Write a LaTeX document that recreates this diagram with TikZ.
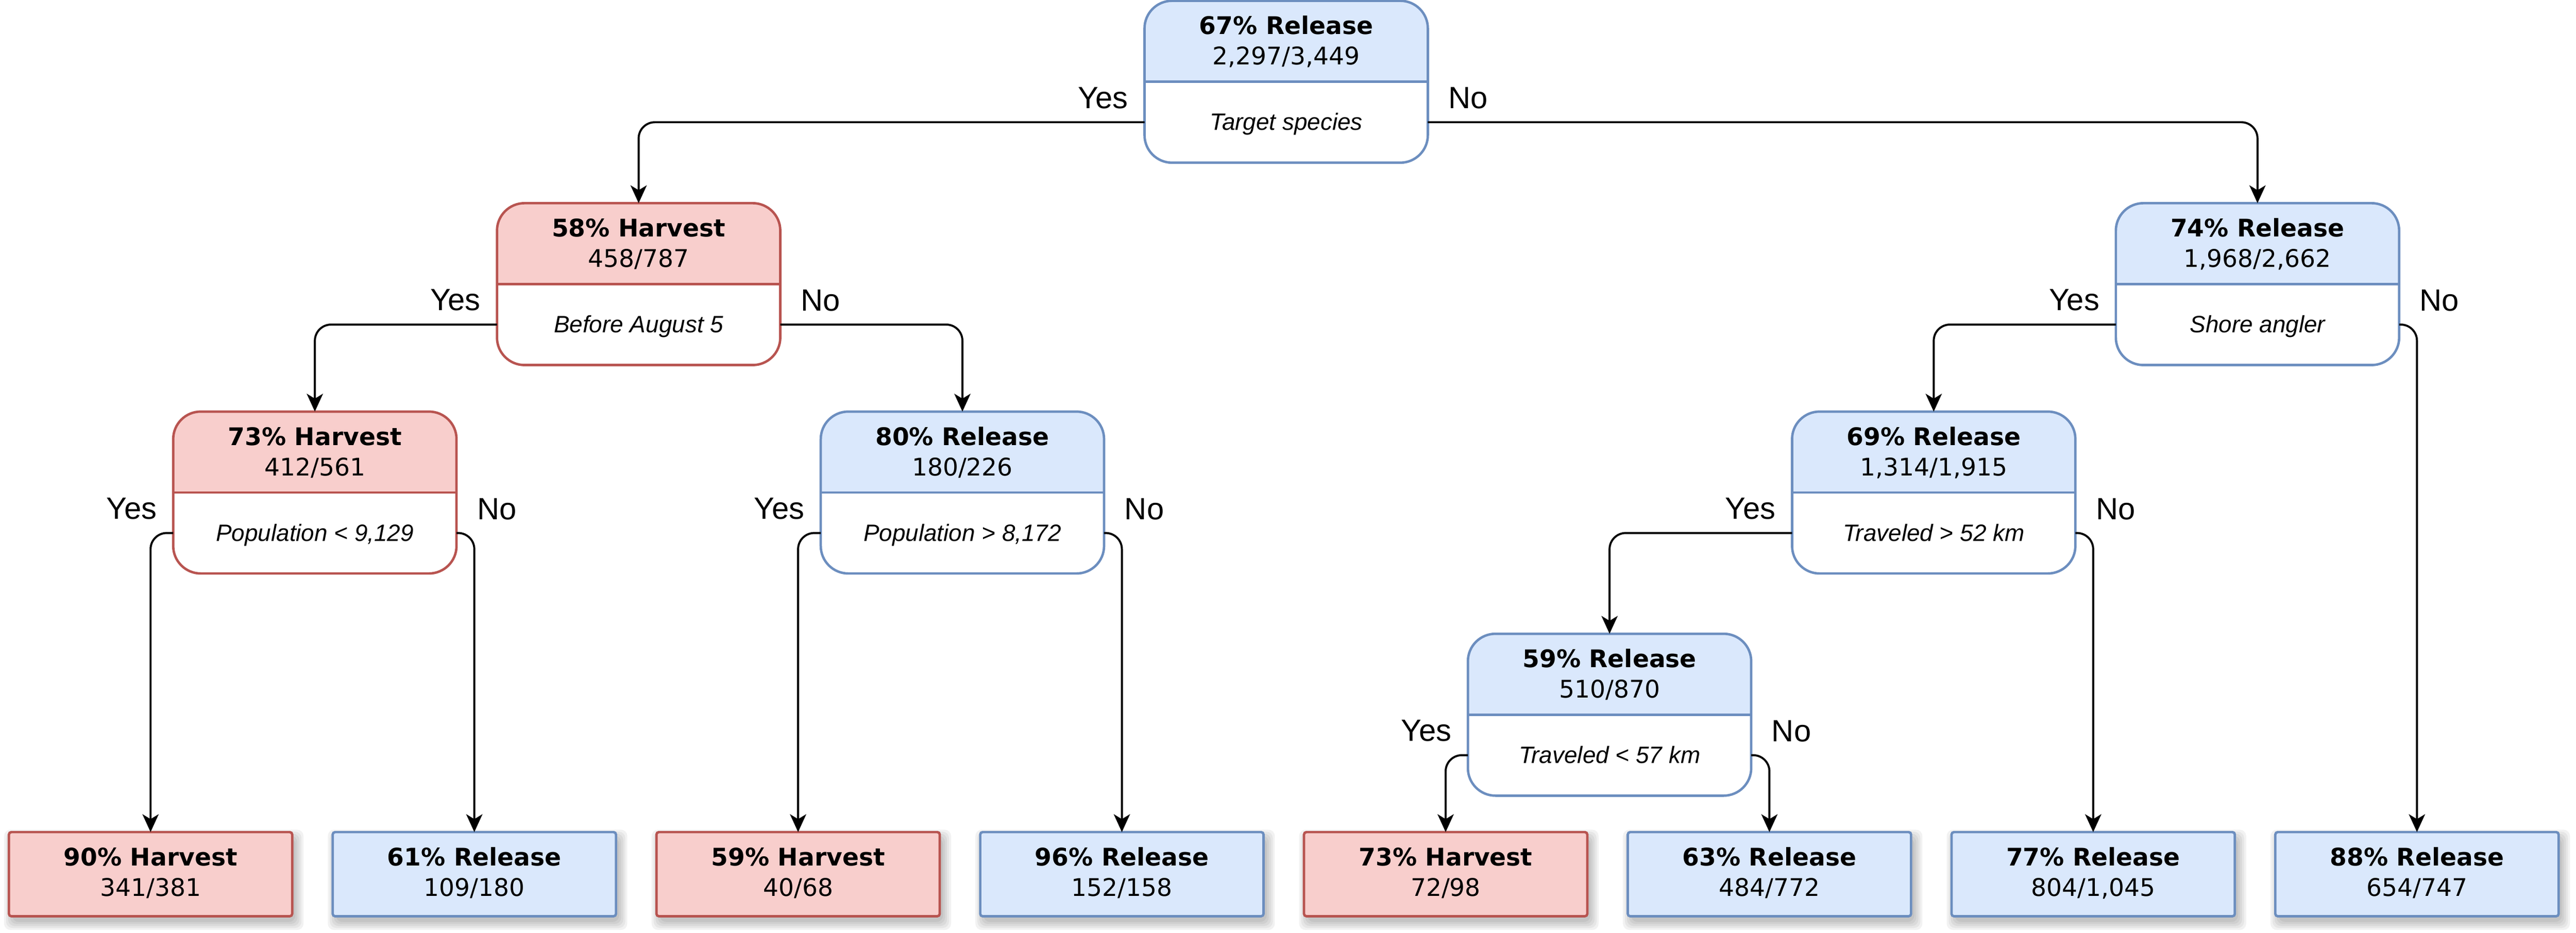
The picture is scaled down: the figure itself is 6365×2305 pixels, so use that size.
\documentclass[tikz,border=0pt]{standalone}
\usepackage{fontspec}
\setmainfont{Liberation Sans}
\newfontfamily\djv{DejaVu Sans}
\usetikzlibrary{arrows.meta,calc}
\definecolor{bfill}{HTML}{DAE8FC}
\definecolor{bdraw}{HTML}{6C8EBF}
\definecolor{rfill}{HTML}{F8CECC}
\definecolor{rdraw}{HTML}{B85450}
\tikzset{
 dtbox/.style={draw=#1, line width=1.5pt, rounded corners=17pt, minimum width=175pt, minimum height=100pt, inner sep=0pt, outer sep=0pt, anchor=north, fill=white},
 leafbox/.style={line width=1.5pt, rounded corners=1.5pt, minimum width=175pt, minimum height=52pt, inner sep=0pt, outer sep=0pt, anchor=north},
 ttl/.style={font=\djv\bfseries\fontsize{15pt}{18pt}\selectfont, anchor=base, inner sep=0pt},
 cnt/.style={font=\djv\fontsize{15pt}{18pt}\selectfont, anchor=base, inner sep=0pt},
 cond/.style={font=\itshape\fontsize{14.6pt}{18pt}\selectfont, anchor=base, inner sep=0pt},
 yeslbl/.style={font=\fontsize{19pt}{22pt}\selectfont, inner sep=0pt, anchor=south east},
 nolbl/.style={font=\fontsize{19pt}{22pt}\selectfont, inner sep=0pt, anchor=south west},
 conn/.style={draw=black, line width=1.25pt, rounded corners=10pt, -{Stealth[length=11pt,width=10pt,inset=3pt]}},
}
% internal node: name, cx, top, fill, draw, title, count, condition
\newcommand{\dtnode}[8]{%
 \node[dtbox=#5, path picture={\fill[#4, sharp corners] (path picture bounding box.north west) rectangle (path picture bounding box.east);}] (#1) at (#2,#3) {};
 \draw[#5, line width=1.5pt] (#1.west) -- (#1.east);
 \node[ttl] (#1-t) at ($(#2,#3)+(0,83)$) {#6};
 \node[cnt] (#1-n) at ($(#2,#3)+(0,158)$) {#7};
 \node[cond] (#1-c) at ($(#2,#3)+(0,320)$) {#8};
}
% leaf: name, cx, top, fill, draw, title, count
\newcommand{\dtleaf}[7]{%
 \foreach \k in {0,...,4}{%
  \fill[black, opacity=0.05, rounded corners=4pt] ($(#2,#3)+(-342-\k*5,14-\k*5)$) rectangle ($(#2,#3)+(358+\k*5,222+\k*5)$);
 }
 \node[leafbox, fill=#4, draw=#5] (#1) at (#2,#3) {};
 \node[ttl] (#1-t) at ($(#2,#3)+(0,83)$) {#6};
 \node[cnt] (#1-n) at ($(#2,#3)+(0,158)$) {#7};
}
\newcommand{\yn}[1]{%
 \node[yeslbl] (#1-yes) at ($(#1.west)!0.5!(#1.south west)+(-40,-33)$) {Yes};
 \node[nolbl] (#1-no) at ($(#1.east)!0.5!(#1.south east)+(50,-32)$) {No};
}
\begin{document}
\begin{tikzpicture}[x=0.25pt, y=-0.25pt]
\useasboundingbox (0,0) rectangle (6365,2305);
% internal nodes
\dtnode{root}{3178}{2}{bfill}{bdraw}{67\% Release}{2,297/3,449}{Target species}
\dtnode{na}{1578}{502}{rfill}{rdraw}{58\% Harvest}{458/787}{Before August 5}
\dtnode{nb}{5578}{502}{bfill}{bdraw}{74\% Release}{1,968/2,662}{Shore angler}
\dtnode{nc}{778}{1017}{rfill}{rdraw}{73\% Harvest}{412/561}{Population < 9,129}
\dtnode{nd}{2378}{1017}{bfill}{bdraw}{80\% Release}{180/226}{Population > 8,172}
\dtnode{ne}{4778}{1017}{bfill}{bdraw}{69\% Release}{1,314/1,915}{Traveled > 52 km}
\dtnode{nf}{3977}{1566}{bfill}{bdraw}{59\% Release}{510/870}{Traveled < 57 km}
% leaves
\dtleaf{la}{372}{2056}{rfill}{rdraw}{90\% Harvest}{341/381}
\dtleaf{lb}{1172}{2056}{bfill}{bdraw}{61\% Release}{109/180}
\dtleaf{lc}{1972}{2056}{rfill}{rdraw}{59\% Harvest}{40/68}
\dtleaf{ld}{2772}{2056}{bfill}{bdraw}{96\% Release}{152/158}
\dtleaf{le}{3572}{2056}{rfill}{rdraw}{73\% Harvest}{72/98}
\dtleaf{lf}{4372}{2056}{bfill}{bdraw}{63\% Release}{484/772}
\dtleaf{lg}{5172}{2056}{bfill}{bdraw}{77\% Release}{804/1,045}
\dtleaf{lh}{5972}{2056}{bfill}{bdraw}{88\% Release}{654/747}
% connectors
\draw[conn] ($(root.west)!0.5!(root.south west)$) -| (na.north);
\draw[conn] ($(root.east)!0.5!(root.south east)$) -| (nb.north);
\draw[conn] ($(na.west)!0.5!(na.south west)$) -| (nc.north);
\draw[conn] ($(na.east)!0.5!(na.south east)$) -| (nd.north);
\draw[conn] ($(nb.west)!0.5!(nb.south west)$) -| (ne.north);
\draw[conn] ($(nb.east)!0.5!(nb.south east)$) -| (lh.north);
\draw[conn] ($(nc.west)!0.5!(nc.south west)$) -| (la.north);
\draw[conn] ($(nc.east)!0.5!(nc.south east)$) -| (lb.north);
\draw[conn] ($(nd.west)!0.5!(nd.south west)$) -| (lc.north);
\draw[conn] ($(nd.east)!0.5!(nd.south east)$) -| (ld.north);
\draw[conn] ($(ne.west)!0.5!(ne.south west)$) -| (nf.north);
\draw[conn] ($(ne.east)!0.5!(ne.south east)$) -| (lg.north);
\draw[conn] ($(nf.west)!0.5!(nf.south west)$) -| (le.north);
\draw[conn] ($(nf.east)!0.5!(nf.south east)$) -| (lf.north);
% labels
\yn{root}
\yn{na}
\yn{nb}
\yn{nc}
\yn{nd}
\yn{ne}
\yn{nf}
\end{tikzpicture}
\end{document}
